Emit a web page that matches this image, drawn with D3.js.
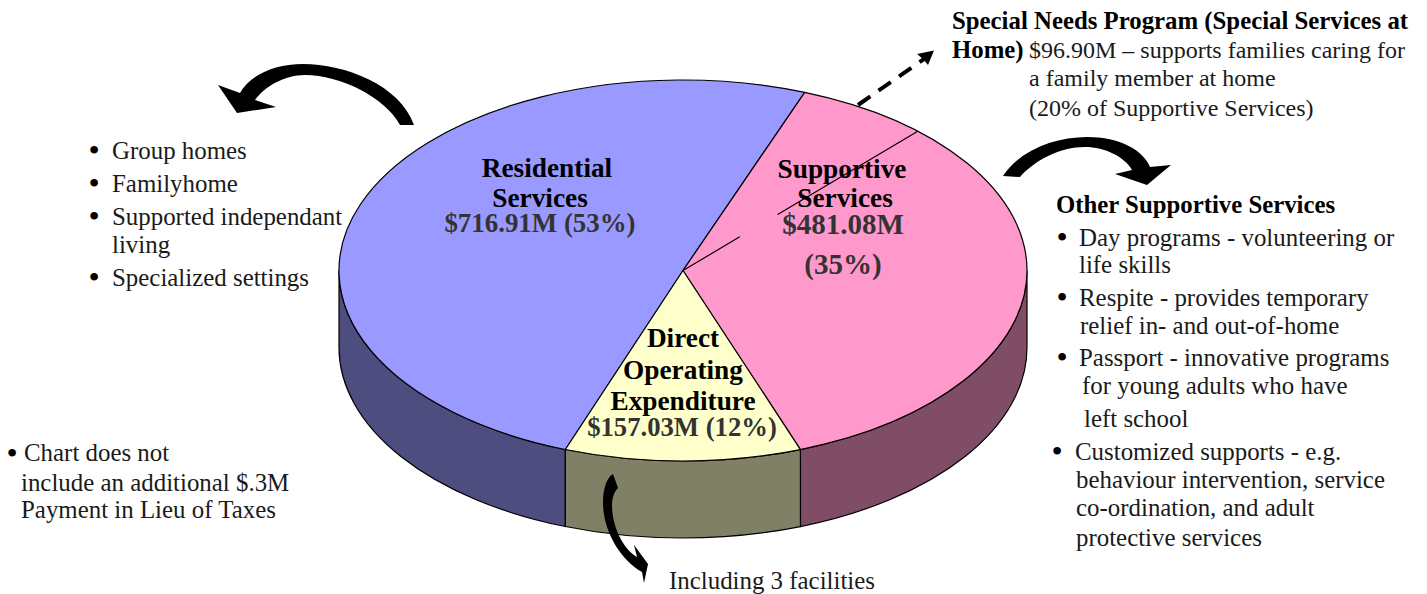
<!DOCTYPE html>
<html>
<head>
<meta charset="utf-8">
<script src="https://cdn.jsdelivr.net/npm/d3@7"></script>
<style>
  html, body { margin: 0; padding: 0; background: #fff; overflow: hidden; }
  text { font-family: "Liberation Serif", serif; fill: #1a1a1a; }
</style>
</head>
<body>
<script>
// values from the picture
var categories = ["Residential Services", "Supportive Services", "Direct Operating Expenditure"];
var amounts = ["716.91", "481.08", "157.03"];
var percents = [53, 35, 12];
// the slices are not drawn to scale in the original, so these are shares as drawn (in %)
var drawnShares = [50.2, 38.7, 11.1];
var specialNeedsDrawnShare = 6.2;
var topColors = ["#9999ff", "#ff99cc", "#ffffcc"];
var sideColors = ["#4d4d80", "#804d66", "#808066"];

var residentialList = ["Group homes", "Familyhome", "Supported independant", "living", "Specialized settings"];
var otherList = ["Day programs - volunteering or", "life skills", "Respite - provides temporary",
  "relief in- and out-of-home", "Passport - innovative programs", "for young adults who have",
  "left school", "Customized supports - e.g.", "behaviour intervention, service",
  "co-ordination, and adult", "protective services"];

var width = 1427, height = 594;
var cx = 683, cy = 270.5, rx = 344, ry = 190.5, depth = 77;
var start = 200 * Math.PI / 180;
var yScale = ry / rx;

var svg = d3.select("body").append("svg")
  .attr("width", width)
  .attr("height", height);

var pie = d3.pie().sort(null).startAngle(start).endAngle(start + 2 * Math.PI);
var slices = pie(drawnShares);
var arc = d3.arc().innerRadius(0).outerRadius(rx);

// everything in here is a circle squashed into an ellipse
var disc = svg.append("g")
  .attr("transform", "translate(" + cx + "," + cy + ") scale(1," + yScale + ")");

// d3 angles start from 12 o'clock, d3.path from 3 o'clock
function wall(a0, a1) {
  var p = d3.path();
  var d = depth / yScale;
  var s0 = a0 - Math.PI / 2, s1 = a1 - Math.PI / 2;
  p.moveTo(rx * Math.cos(s0), rx * Math.sin(s0));
  p.arc(0, 0, rx, s0, s1);
  p.lineTo(rx * Math.cos(s1), rx * Math.sin(s1) + d);
  p.arc(0, d, rx, s1, s0, true);
  p.closePath();
  return p.toString();
}

// only the front half of the rim shows
var walls = slices.map(function(s, i) {
  var a0 = s.startAngle, a1 = s.endAngle;
  if (a0 >= 2 * Math.PI) { a0 -= 2 * Math.PI; a1 -= 2 * Math.PI; }
  return { a0: Math.max(a0, Math.PI / 2), a1: Math.min(a1, 1.5 * Math.PI), i: i };
});

disc.selectAll(".wall")
  .data(walls)
  .enter()
  .append("path")
  .attr("class", "wall")
  .attr("d", function(d) { return wall(d.a0, d.a1); })
  .attr("fill", function(d) { return sideColors[d.i]; })
  .attr("stroke", "#000")
  .attr("stroke-width", 1.2)
  .attr("vector-effect", "non-scaling-stroke");

disc.selectAll(".slice")
  .data(slices)
  .enter()
  .append("path")
  .attr("class", "slice")
  .attr("d", arc)
  .attr("fill", function(d, i) { return topColors[i]; })
  .attr("stroke", "#000")
  .attr("stroke-width", 1.2)
  .attr("vector-effect", "non-scaling-stroke");

// Special Needs part of the Supportive slice, broken where the label sat on it
var subAngle = slices[1].startAngle + specialNeedsDrawnShare / 100 * 2 * Math.PI;
var subX = cx + rx * Math.sin(subAngle), subY = cy - ry * Math.cos(subAngle);
var subLen = Math.hypot(subX - cx, subY - cy);
svg.append("line")
  .attr("x1", cx).attr("y1", cy)
  .attr("x2", subX).attr("y2", subY)
  .attr("stroke", "#000")
  .attr("stroke-width", 1.2)
  .attr("stroke-dasharray", "66 44 " + subLen);

// curved arrows
var arrows = [
  "M414,125 C400,85 345,64 303,64 C275,64 250,75 240,93 L218,85 L237,113 L276,107 L255,100 C265,86 285,75 305,75 C340,75 385,97 400,125 Z",
  "M1003,176 C1020,150 1055,137 1087,137 C1120,137 1143,150 1150,167 L1171,165 L1147,185 L1115,174 L1132,170 C1125,157 1105,147 1085,147 C1060,147 1035,160 1020,177 Z",
  "M613,474 C606,478 603,490 603,503 C603,530 620,560 642,572 L644,583 L648,564 L634,545 L637,557 C622,548 612,525 612,505 C612,498 614,492 618,488 Z"
];
svg.selectAll(".arrow")
  .data(arrows)
  .enter()
  .append("path")
  .attr("class", "arrow")
  .attr("d", function(d) { return d; })
  .attr("fill", "#000");

// dashed arrow to the Special Needs note
svg.append("line")
  .attr("x1", 858).attr("y1", 105)
  .attr("x2", 924).attr("y2", 59)
  .attr("stroke", "#000")
  .attr("stroke-width", 4)
  .attr("stroke-dasharray", "15 10");
svg.append("path")
  .attr("d", "M934,50.5 L917,54 L923,59 L928,65 Z")
  .attr("fill", "#000");

function note(x, y, str, size, bold, anchor, fill) {
  var t = svg.append("text")
    .attr("x", x)
    .attr("y", y)
    .attr("font-size", size)
    .attr("font-weight", bold ? "bold" : "normal")
    .attr("text-anchor", anchor || "start")
    .text(str);
  if (fill) t.style("fill", fill);
  return t;
}

// labels on the pie
var valueFill = "#333333";
var labelSize = 27.3;
note(547, 177, "Residential", labelSize, true, "middle", "#000");
note(540, 207, "Services", labelSize, true, "middle", "#000");
note(540, 232, "$" + amounts[0] + "M (" + percents[0] + "%)", 26.9, true, "middle", valueFill);

note(842, 178, "Supportive", labelSize, true, "middle", "#000");
note(845, 207, "Services", labelSize, true, "middle", "#000");
note(843, 234, "$" + amounts[1] + "M", 29, true, "middle", valueFill);
note(843, 274, "(" + percents[1] + "%)", 29, true, "middle", valueFill);

note(683, 347, "Direct", labelSize, true, "middle", "#000");
note(683, 379, "Operating", labelSize, true, "middle", "#000");
note(683, 410, "Expenditure", labelSize, true, "middle", "#000");
note(682, 436, "$" + amounts[2] + "M (" + percents[2] + "%)", 26.7, true, "middle", valueFill);

// left list
var textSize = 24.9;
var noteSize = 24;
function bullet(x, y) { note(x, y + 4, "\u2022", 32, false, "middle", "#000"); }
var leftY = [159, 192, 225, 253, 286];
residentialList.forEach(function(s, i) {
  note(112, leftY[i], s, textSize);
  if (i != 3) bullet(94, leftY[i] - 2);
});

// Special Needs note
note(952, 28.5, "Special Needs Program (Special Services at", 24.8, true, "start", "#000");
note(952, 58, "Home)", 24.8, true, "start", "#000");
note(1029, 58, "$96.90M \u2013 supports families caring for", noteSize);
note(1029, 86, "a family member at home", noteSize);
note(1029, 116, "(20% of Supportive Services)", noteSize);

// right list
note(1056, 213, "Other Supportive Services", 24.8, true, "start", "#000");
var otherX = [1079, 1079, 1079, 1080, 1079, 1082, 1084, 1075, 1076, 1076, 1076];
var otherY = [246, 273, 306, 334, 366, 394, 427, 460, 488, 516, 546];
otherList.forEach(function(s, i) {
  note(otherX[i], otherY[i], s, textSize);
});
[0, 2, 4].forEach(function(i) { bullet(1062, otherY[i] - 2); });
bullet(1057, otherY[7] - 2);

// footnotes
bullet(12, 460);
note(24, 461, "Chart does not", textSize);
note(21, 491, "include an additional $.3M", textSize);
note(21, 518, "Payment in Lieu of Taxes", textSize);
note(669, 589, "Including 3 facilities", textSize);
</script>
</body>
</html>
